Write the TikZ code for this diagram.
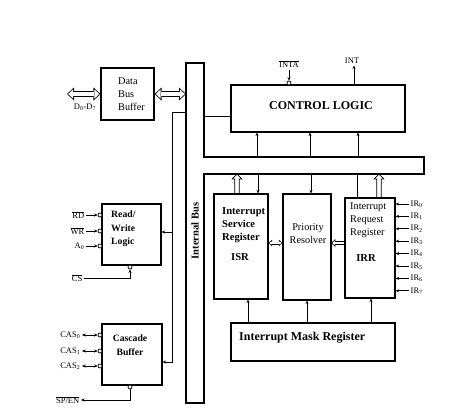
\documentclass[tikz,border=0pt]{standalone}
\usepackage{fontspec}
\setmainfont{Liberation Serif}
\usetikzlibrary{positioning}
\usetikzlibrary{arrows.meta}
\tikzset{unitbox/.style={rectangle,draw=black,line width=1.1pt,inner sep=0pt}}
\tikzset{unittext/.style={inner sep=0pt,align=left,font=\fontsize{10.3}{13}\selectfont}}
\tikzset{unitbold/.style={inner sep=0pt,align=left,font=\fontsize{10.6}{13}\selectfont\bfseries}}
\tikzset{unitmid/.style={inner sep=0pt,align=left,font=\fontsize{9.7}{13.5}\selectfont\bfseries}}
\tikzset{unitbig/.style={inner sep=0pt,font=\fontsize{12}{14}\selectfont\bfseries}}
\tikzset{pinlabel/.style={inner sep=1.5pt,font=\fontsize{8.5}{10}\selectfont}}
\tikzset{pinbubble/.style={circle,draw=black,line width=0.7pt,fill=white,inner sep=0pt,minimum size=4pt}}
\tikzset{wire/.style={line width=1pt}}
\tikzset{pinarrow/.style={line width=0.8pt,-{Stealth[length=3.5pt,width=3pt]}}}
\tikzset{pinboth/.style={line width=0.8pt,{Stealth[length=3.5pt,width=3pt]}-{Stealth[length=3.5pt,width=3pt]}}}
% outlined arrows: black body, white inside drawn on top
\tikzset{hollowboth/.style={line width=5.6pt,
    {Triangle[length=7pt,width=13pt,line width=0pt]}-{Triangle[length=7pt,width=13pt,line width=0pt]},
    postaction={draw=white,line width=4pt,shorten <=1.17pt,shorten >=1.17pt,
    {Triangle[length=5pt,width=9.3pt,line width=0pt]}-{Triangle[length=5pt,width=9.3pt,line width=0pt]}}}}
\tikzset{hollowsmall/.style={line width=3pt,
    {Triangle[length=3.5pt,width=6.5pt,line width=0pt]}-{Triangle[length=3.5pt,width=6.5pt,line width=0pt]},
    postaction={draw=white,line width=1.8pt,shorten <=0.88pt,shorten >=0.88pt,
    {Triangle[length=2pt,width=3.8pt,line width=0pt]}-{Triangle[length=2pt,width=3.8pt,line width=0pt]}}}}
% outlined single arrows, drawn as an outline
\tikzset{hollowup/.style={line width=0.7pt,line join=miter,to path={
    ([xshift=-2.3pt]\tikztostart) -- ([xshift=-2.3pt,yshift=-5pt]\tikztotarget)
    -- ([xshift=-4.75pt,yshift=-5pt]\tikztotarget) -- (\tikztotarget)
    -- ([xshift=4.75pt,yshift=-5pt]\tikztotarget) -- ([xshift=2.3pt,yshift=-5pt]\tikztotarget)
    -- ([xshift=2.3pt]\tikztostart)}}}
\tikzset{hollowleft/.style={line width=0.6pt,line join=miter,to path={
    ([yshift=1.5pt]\tikztostart) -- ([xshift=3.5pt,yshift=1.5pt]\tikztotarget)
    -- ([xshift=3.5pt,yshift=3.25pt]\tikztotarget) -- (\tikztotarget)
    -- ([xshift=3.5pt,yshift=-3.25pt]\tikztotarget) -- ([xshift=3.5pt,yshift=-1.5pt]\tikztotarget)
    -- ([yshift=-1.5pt]\tikztostart)}}}

\begin{document}
\begin{tikzpicture}[x=1pt,y=-1pt]
    \useasboundingbox (0,0) rectangle (474,418);

    % blocks
    \node[unitbox,minimum width=53pt,minimum height=52pt] (boxData) at (127.5,94) {};
    \node[unitbox,minimum width=174pt,minimum height=47pt] (boxCtrl) at (318,108.5) {};
    \node[unitbox,minimum width=59pt,minimum height=61pt] (boxRW) at (131.5,234.5) {};
    \node[unitbox,minimum width=60pt,minimum height=61pt] (boxCas) at (132,354.5) {};
    \node[unitbox,minimum width=54pt,minimum height=105pt] (boxISR) at (241,246.5) {};
    \node[unitbox,minimum width=48pt,minimum height=106pt] (boxPR) at (307,247) {};
    \node[unitbox,minimum width=50pt,minimum height=100pt] (boxIRR) at (370,248) {};
    \node[unitbox,minimum width=164pt,minimum height=38pt] (boxIMR) at (313,342) {};

    % block texts
    \node[unittext,anchor=west] (txtData) at (118,94) {Data\\Bus\\Buffer};
    \node[unitmid,anchor=west] (txtRW) at (111,229) {Read/\\Write\\Logic};
    \node[unitmid,align=center] (txtCas) at (130,345) {Cascade\\Buffer};
    \node[unitbig] (txtCtrl) at (321,106) {CONTROL LOGIC};
    \node[unitbold,anchor=west] (txtISR) at (222,225) {Interrupt\\Service\\Register};
    \node[unitbold] (txtISRab) at (240,257) {ISR};
    \node[unittext,align=center] (txtPR) at (308,233.5) {Priority\\Resolver};
    \node[unittext,anchor=west] (txtIRR) at (350,220) {Interrupt\\Request\\Register};
    \node[unitbold] (txtIRRab) at (366,258) {IRR};
    \node[unitbig,anchor=west] (txtIMR) at (239,338) {Interrupt Mask Register};

    % internal bus
    \draw[line width=1.1pt] (186,63) -- (204,63) -- (204,157) -- (424,157) -- (424,174)
        -- (204,174) -- (204,403) -- (186,403) -- cycle;
    \node[unitbold,font=\fontsize{10.5}{12}\selectfont\bfseries,rotate=90] (txtBus) at (195,231) {Internal Bus};
    \coordinate (busHtop) at (300,157);
    \coordinate (busHbot) at (300,174);
    \coordinate (busLeftD) at (186,94);
    \coordinate (busTapL) at (186,112);
    \coordinate (busTapC) at (204,116);
    \coordinate (feedTop) at (172,112);

    % data bus
    \coordinate (dataPort) at (67,94);
    \draw[hollowboth] (dataPort) -- (boxData.west);
    \draw[hollowboth] (boxData.east) -- (busLeftD);
    \node[pinlabel] (labD) at (85,107) {D\textsubscript{0}-D\textsubscript{7}};

    % bus to control logic
    \draw[wire] (busTapC) -- (boxCtrl.west |- busTapC);
    \foreach \dx [count=\k] in {-61,-8,40} {
        \coordinate (ctrlIn\k) at ([xshift=\dx pt]boxCtrl.south);
        \draw[pinarrow] (ctrlIn\k |- busHtop) -- (ctrlIn\k);
    }

    % control pins
    \node[pinlabel] (labINTA) at (289,64) {$\overline{\hbox{INTA}}$};
    \node[pinbubble] (bubINTA) at (289,83) {};
    \draw[pinarrow] (labINTA.south) -- (bubINTA.north);
    \node[pinlabel] (labINT) at (352,61) {INT};
    \coordinate (ctrlOut) at ([xshift=36pt]boxCtrl.north);
    \draw[pinarrow] (ctrlOut) -- (ctrlOut |- labINT.south);

    % bus to read/write logic and cascade buffer
    \coordinate (rwIn) at ([yshift=2.5pt]boxRW.east);
    \coordinate (casIn) at ([yshift=-7.5pt]boxCas.east);
    \draw[pinarrow] (busTapL) -- (feedTop) |- (casIn);
    \draw[pinarrow] (feedTop |- rwIn) -- (rwIn);

    % read/write pins
    \foreach \pin/\yy [count=\k] in {{$\overline{\hbox{RD}}$}/215,{$\overline{\hbox{WR}}$}/231,{A\textsubscript{0}}/246} {
        \node[pinlabel,anchor=east] (labRW\k) at (86,\yy) {\pin};
        \node[pinbubble] (bubRW\k) at (100,\yy) {};
        \draw[pinarrow] (labRW\k.east) -- (bubRW\k.west);
    }
    \node[pinlabel,anchor=east] (labCS) at (84,278) {$\overline{\hbox{CS}}$};
    \node[pinbubble] (bubCS) at (130,267) {};
    \draw[pinarrow] (labCS.east) -| (bubCS.south);

    % cascade pins
    \foreach \k/\yy in {0/335,1/351,2/366} {
        \node[pinlabel,anchor=east] (labCAS\k) at (82,\yy) {CAS\textsubscript{\k}};
        \node[pinbubble] (bubCAS\k) at (100,\yy) {};
        \draw[pinboth] (labCAS\k.east) -- (bubCAS\k.west);
    }
    \node[pinbubble] (bubSP) at (130,387) {};
    \node[pinlabel,anchor=east] (labSP) at (81,400) {$\overline{\hbox{SP/EN}}$};
    \draw[pinarrow] (bubSP.south) |- (labSP.east);

    % bus to the registers
    \coordinate (isrUp) at ([xshift=-4pt]boxISR.north);
    \coordinate (isrDown) at ([xshift=17pt]boxISR.north);
    \coordinate (prDown) at ([xshift=4pt]boxPR.north);
    \coordinate (irrLine) at ([xshift=-13pt]boxIRR.north);
    \coordinate (irrUp) at ([xshift=9pt]boxIRR.north);
    \draw[hollowup] (isrUp) to (isrUp |- busHbot);
    \draw[pinarrow] (isrDown |- busHbot) -- (isrDown);
    \draw[pinarrow] (prDown |- busHbot) -- (prDown);
    \draw[wire] (irrLine |- busHbot) -- (irrLine);
    \draw[hollowup] (irrUp) to (irrUp |- busHbot);

    % between the registers
    \coordinate (isrSide) at ([yshift=3.5pt]boxISR.east);
    \coordinate (irrSide) at ([yshift=5pt]boxIRR.west);
    \draw[hollowsmall] (isrSide) -- (boxPR.west |- isrSide);
    \draw[hollowleft] (irrSide) to (boxPR.east |- irrSide);

    % mask register
    \coordinate (isrMask) at ([xshift=7pt]boxISR.south);
    \coordinate (irrMask) at ([xshift=1pt]boxIRR.south);
    \draw[pinarrow] (isrMask |- boxIMR.north) -- (isrMask);
    \draw[pinarrow] (boxPR.south |- boxIMR.north) -- (boxPR.south);
    \draw[pinarrow] (irrMask |- boxIMR.north) -- (irrMask);

    % interrupt requests
    \foreach \k in {0,...,7} {
        \node[pinlabel,anchor=west] (labIR\k) at (409,{204+12.4*\k}) {IR\textsubscript{\k}};
        \draw[pinarrow] (labIR\k.west) -- (labIR\k.west -| boxIRR.east);
    }
\end{tikzpicture}
\end{document}
